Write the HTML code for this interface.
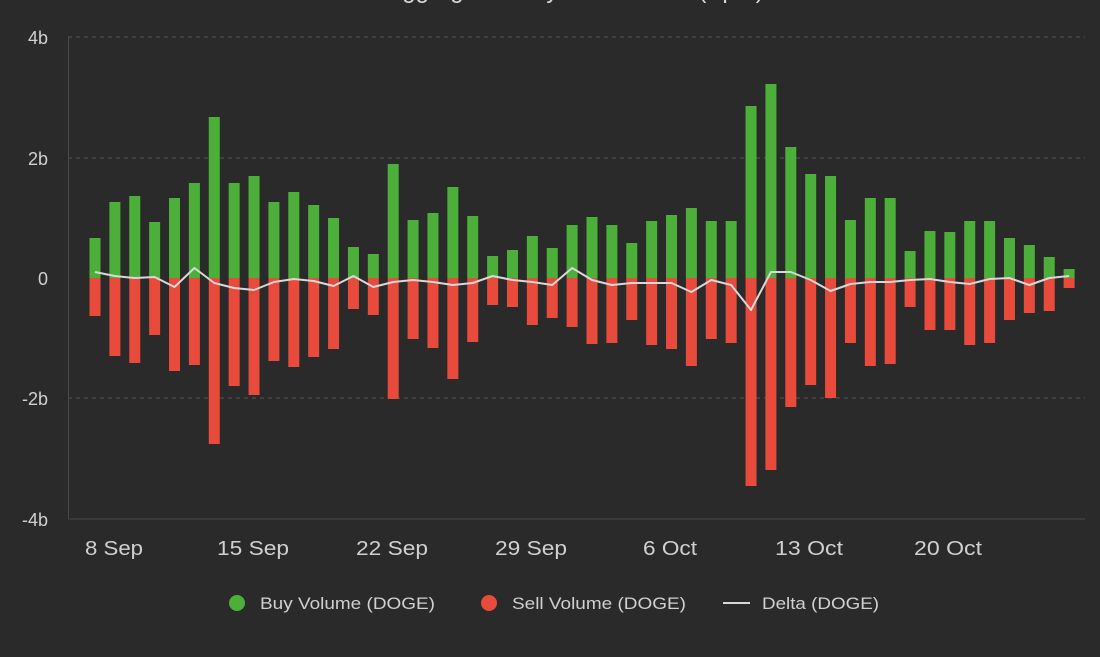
<!DOCTYPE html>
<html><head><style>
html,body{margin:0;padding:0;background:#2a2a2a;}
svg{display:block;font-family:"Liberation Sans",Arial,sans-serif;}
</style></head><body>
<svg width="1100" height="657" viewBox="0 0 1100 657" xmlns="http://www.w3.org/2000/svg">
<rect width="1100" height="657" fill="#2a2a2a"/>
<text x="575" y="-2" text-anchor="middle" font-size="24" fill="#d8d8d8">Aggregated Buy Sell Volume (Spot)</text>
<g stroke="#555" stroke-width="1" stroke-dasharray="4,4">
<line x1="68" y1="37" x2="1085" y2="37"/>
<line x1="68" y1="158" x2="1085" y2="158"/>
<line x1="68" y1="398" x2="1085" y2="398"/>
</g>
<line x1="68" y1="519" x2="1085" y2="519" stroke="#4a4a4a"/>
<line x1="68.5" y1="37" x2="68.5" y2="519" stroke="#4a4a4a"/>
<g fill="#d0d0d0" font-size="18" text-anchor="end">
<text x="48" y="44">4b</text>
<text x="48" y="165">2b</text>
<text x="48" y="285">0</text>
<text x="48" y="405">-2b</text>
<text x="48" y="526">-4b</text>
</g>
<g fill="#d0d0d0" font-size="20" text-anchor="middle">
<text x="114" y="555" textLength="58" lengthAdjust="spacingAndGlyphs">8 Sep</text>
<text x="253" y="555" textLength="72" lengthAdjust="spacingAndGlyphs">15 Sep</text>
<text x="392" y="555" textLength="72" lengthAdjust="spacingAndGlyphs">22 Sep</text>
<text x="531" y="555" textLength="72" lengthAdjust="spacingAndGlyphs">29 Sep</text>
<text x="670" y="555" textLength="54" lengthAdjust="spacingAndGlyphs">6 Oct</text>
<text x="809" y="555" textLength="68" lengthAdjust="spacingAndGlyphs">13 Oct</text>
<text x="948" y="555" textLength="68" lengthAdjust="spacingAndGlyphs">20 Oct</text>
</g>
<g id="bars"></g>
<polyline id="delta" fill="none" stroke="#d8d8d8" stroke-width="2" stroke-linejoin="round"/>
<circle cx="237" cy="603" r="8" fill="#4caf3a"/>
<text x="260" y="609" fill="#d0d0d0" font-size="17" textLength="175" lengthAdjust="spacingAndGlyphs">Buy Volume (DOGE)</text>
<circle cx="489" cy="603" r="8" fill="#e84a3c"/>
<text x="512" y="609" fill="#d0d0d0" font-size="17" textLength="174" lengthAdjust="spacingAndGlyphs">Sell Volume (DOGE)</text>
<line x1="723" y1="603" x2="750" y2="603" stroke="#d8d8d8" stroke-width="2"/>
<text x="762" y="609" fill="#d0d0d0" font-size="17" textLength="117" lengthAdjust="spacingAndGlyphs">Delta (DOGE)</text>
</svg>
<script>
var g=[238,202,196,222,198,183,117,183,176,202,192,205,218,247,254,164,220,213,187,216,256,250,236,248,225,217,225,243,221,215,208,221,221,106,84,147,174,176,220,198,198,251,231,232,221,221,238,245,257,269];
var r=[316,356,363,335,371,365,444,386,395,361,367,357,349,309,315,399,339,348,379,342,305,307,325,318,327,344,343,320,345,349,366,339,343,486,470,407,385,398,343,366,364,307,330,330,345,343,320,313,311,288];
var d=[272,276,278,277,287,268,283,288,290,282,279,281,286,276,287,282,280,282,285,283,276,280,282,285,268,280,285,283,283,283,292,280,285,310,272,272,280,291,284,282,282,280,279,282,284,279,278,285,278,276];
var ns="http://www.w3.org/2000/svg",b=document.getElementById("bars"),pts=[];
for(var i=0;i<50;i++){var cx=95+i*19.88;
var a=document.createElementNS(ns,"rect");a.setAttribute("x",cx-5.5);a.setAttribute("y",g[i]);a.setAttribute("width",11);a.setAttribute("height",278-g[i]);a.setAttribute("fill","#4caf3a");b.appendChild(a);
var c=document.createElementNS(ns,"rect");c.setAttribute("x",cx-5.5);c.setAttribute("y",278);c.setAttribute("width",11);c.setAttribute("height",r[i]-278);c.setAttribute("fill","#e84a3c");b.appendChild(c);
pts.push(cx+","+d[i]);}
document.getElementById("delta").setAttribute("points",pts.join(" "));
</script>
</body></html>
